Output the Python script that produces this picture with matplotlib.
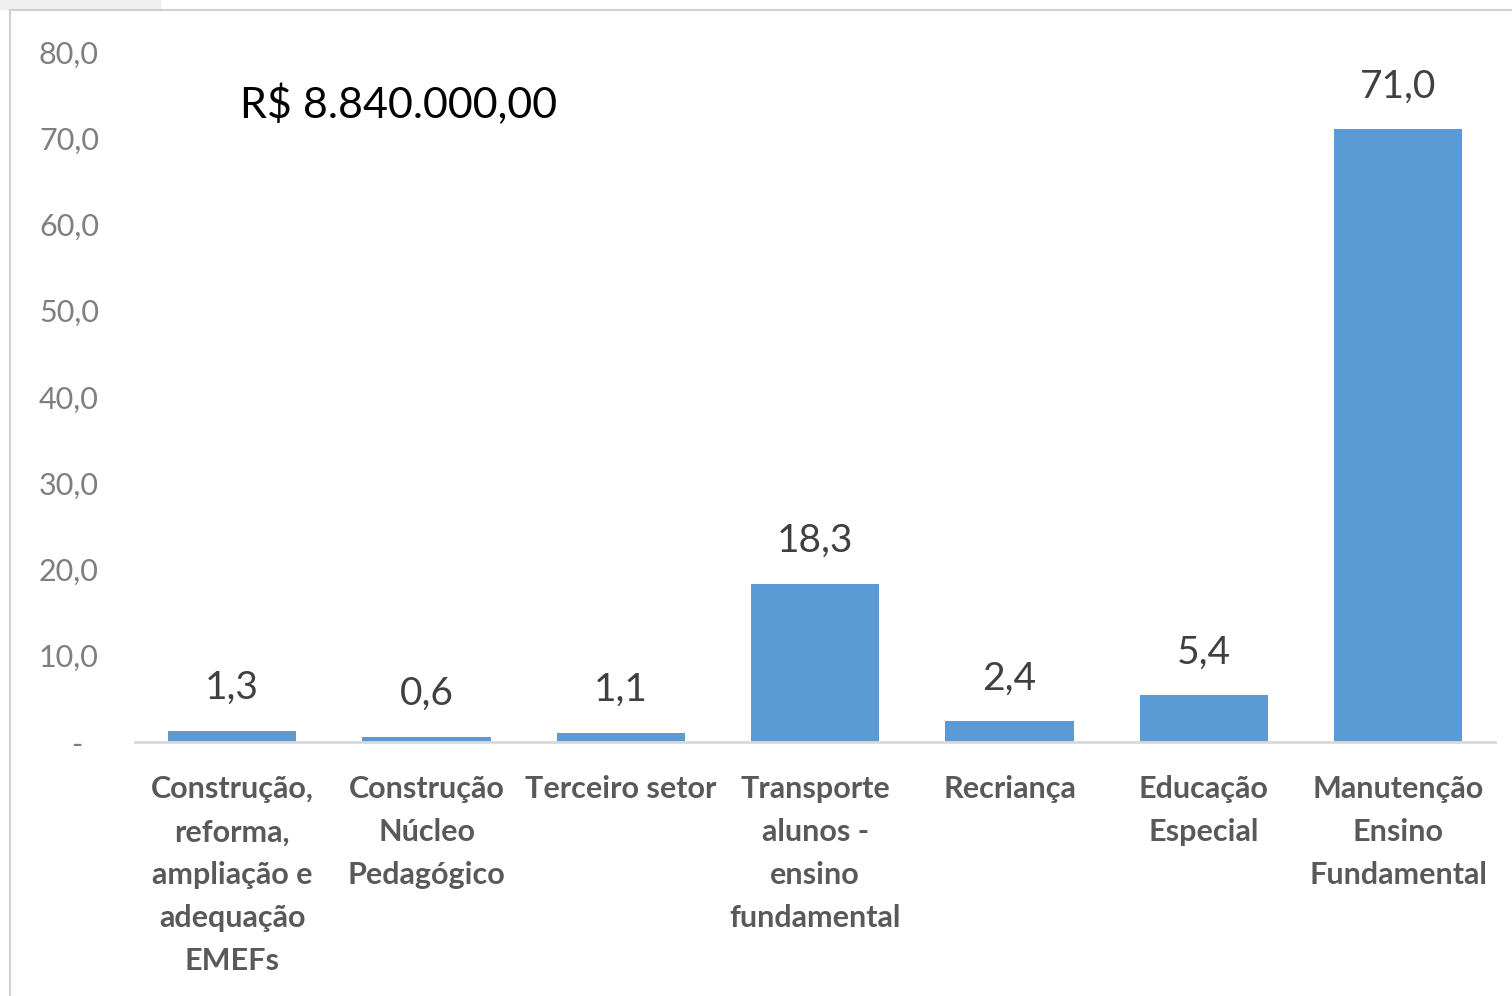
import matplotlib
matplotlib.use("Agg")
import matplotlib.pyplot as plt
from matplotlib.lines import Line2D

categorias = [
    "Construção,\nreforma,\nampliação e\nadequação\nEMEFs",
    "Construção\nNúcleo\nPedagógico",
    "Terceiro setor",
    "Transporte\nalunos -\nensino\nfundamental",
    "Recriança",
    "Educação\nEspecial",
    "Manutenção\nEnsino\nFundamental",
]
valores = [1.3, 0.6, 1.1, 18.3, 2.4, 5.4, 71.0]
yticks = [0, 10, 20, 30, 40, 50, 60, 70, 80]
ytick_labels = ["-  ", "10,0", "20,0", "30,0", "40,0", "50,0", "60,0", "70,0", "80,0"]
total = "R$ 8.840.000,00"

plt.rcParams['font.family'] = ['Lato', 'DejaVu Sans']

fig = plt.figure(figsize=(15.12, 9.96), dpi=100)
ax = fig.add_axes([0.0893, 0.255, 0.8997, 0.693])

x = list(range(len(valores)))
ax.bar(x, valores, width=0.66, color="#5B9BD5", zorder=2)
for xi, v in zip(x, valores):
    ax.annotate(f"{v:.1f}".replace(".", ","), (xi, v), xytext=(0, 31),
                textcoords="offset points", ha="center", va="center",
                fontsize=28, color="#404040")

ax.set_xlim(-0.5, len(valores) - 0.5)
ax.set_ylim(0, 80)
ax.set_yticks(yticks)
ax.set_yticklabels(ytick_labels, fontsize=22, color="#7F7F7F")
ax.set_xticks(x)
ax.set_xticklabels(categorias, fontsize=22, fontweight="bold", color="#595959",
                   linespacing=1.65, va="top")
ax.tick_params(axis="y", length=0, pad=26)
ax.tick_params(axis="x", length=0, pad=24)
for s in ["top", "right", "left"]:
    ax.spines[s].set_visible(False)
ax.spines["bottom"].set_color("#D9D9D9")
ax.spines["bottom"].set_linewidth(2)

fig.text(0.159, 0.895, total, fontsize=31, color="black", ha="left", va="center")

# moldura da captura de tela
fig.add_artist(Line2D([10 / 1512, 1], [1 - 10 / 996] * 2, color="#D0D0D0", lw=1.5))
fig.add_artist(Line2D([10 / 1512] * 2, [0, 1 - 10 / 996], color="#D0D0D0", lw=1.5))
fig.patches.append(plt.Rectangle((0, 1 - 9 / 996), 160 / 1512, 9 / 996,
                                 transform=fig.transFigure, color="#EFEFEF", figure=fig))

fig.savefig("out.png", dpi=100)
